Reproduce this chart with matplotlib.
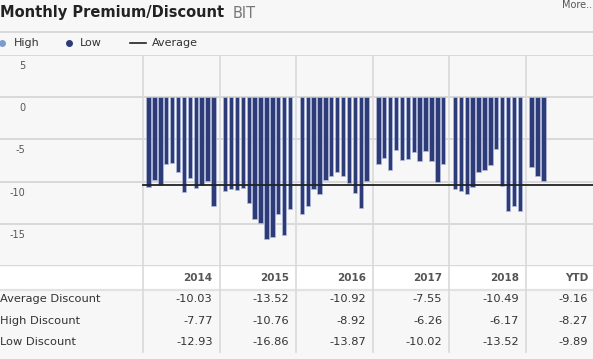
import numpy as np
import matplotlib
matplotlib.use("Agg")
import matplotlib.pyplot as plt
from matplotlib.transforms import blended_transform_factory, offset_copy

# monthly premium/discount, one list per year
years = ['2014', '2015', '2016', '2017', '2018', 'YTD']
monthly = [
    [-10.65, -9.84, -10.43, -7.95, -7.77, -8.90, -11.26, -9.53, -10.75, -10.43, -9.92, -12.93],
    [-11.10, -10.87, -10.99, -10.76, -12.52, -14.45, -14.89, -16.86, -16.51, -13.79, -16.27, -13.23],
    [-13.87, -12.84, -10.87, -11.50, -9.80, -9.37, -8.92, -9.29, -10.16, -11.34, -13.12, -9.96],
    [-7.91, -7.24, -8.58, -6.26, -7.45, -7.36, -6.49, -7.50, -6.33, -7.51, -10.02, -7.95],
    [-10.83, -11.10, -11.46, -10.59, -8.86, -8.58, -7.99, -6.17, -10.51, -13.52, -12.84, -13.43],
    [-8.27, -9.32, -9.89],
]

# table rows
row_labels = ['Average Discount', 'High Discount', 'Low Discount']
avg_disc = [-10.03, -13.52, -10.92, -7.55, -10.49, -9.16]
high_disc = [-7.77, -10.76, -8.92, -6.26, -6.17, -8.27]
low_disc = [-12.93, -16.86, -13.87, -10.02, -13.52, -9.89]

y_ticks = [5, 0, -5, -10, -15, -20]

W, H = 593, 359
bg = '#f7f7f7'
grid_c = '#d9d9d9'
bar_c = '#2d3b78'
txt_c = '#333333'

fig = plt.figure(figsize=(W / 100, H / 100), dpi=100, facecolor=bg)

# main chart area: pixel rows 55..266, full width
ax = fig.add_axes([0, 1 - 266 / H, 1, (266 - 55) / H])
ax.set_facecolor(bg)
slot = 76.6 / 13          # px per slot
x0 = 143                  # px of first divider
ax.set_xlim(-x0 / slot, (W - x0) / slot)
ax.set_ylim(-20, 5)
for s in ax.spines.values():
    s.set_visible(False)
ax.set_xticks([])
ax.set_yticks(y_ticks)
ax.tick_params(axis='y', length=0, labelleft=False)
ax.grid(axis='y', color=grid_c, linewidth=1.4)
ax.set_axisbelow(True)

# year dividers
for i in range(len(years)):
    ax.axvline(i * 13, color=grid_c, linewidth=1.2, zorder=0)

# bars
xs, vals = [], []
for i, ms in enumerate(monthly):
    for m, v in enumerate(ms):
        xs.append(i * 13 + m + 0.95)
        vals.append(v)
ax.bar(xs, vals, width=0.74, color=bar_c, edgecolor='#b4bddb', linewidth=0.5, zorder=2)

# overall average line
avg_all = np.mean(vals)
ax.plot([0, (W - x0) / slot], [avg_all, avg_all], color='#222222', linewidth=1.3, zorder=3)

# y labels below the gridlines
tr = blended_transform_factory(fig.transFigure, ax.transData)
tr = offset_copy(tr, fig=fig, y=-11, units='dots')
for t in y_ticks[:-1]:
    ax.text(25 / W, t, str(t), transform=tr, ha='right', va='center',
            fontsize=7, color='#555555')

# overlay in pixel coordinates for title, legend and table
ov = fig.add_axes([0, 0, 1, 1])
ov.set_xlim(0, W)
ov.set_ylim(H, 0)
ov.axis('off')
ov.patch.set_alpha(0)

ov.text(0, 13, 'Monthly Premium/Discount', fontsize=10.5, fontweight='bold',
        color='#222222', va='center', ha='left')
ov.text(233, 13, 'BIT', fontsize=10.5, color='#777777', va='center', ha='left')
ov.text(W - 1, 5, 'More..', fontsize=7, color='#555555', va='center', ha='right')

ov.plot([0, W], [32, 32], color=grid_c, linewidth=1.4)

# legend
ov.plot([2], [43], 'o', color='#7b9ccc', markersize=4)
ov.text(14, 43, 'High', fontsize=8, color=txt_c, va='center')
ov.plot([69], [43], 'o', color=bar_c, markersize=4)
ov.text(80, 43, 'Low', fontsize=8, color=txt_c, va='center')
ov.plot([130, 146], [43, 43], color='#222222', linewidth=1.2)
ov.text(152, 43, 'Average', fontsize=8, color=txt_c, va='center')

# table
ov.add_patch(plt.Rectangle((0, 267), W, 22, facecolor='white', edgecolor='none'))
ov.plot([0, W], [289.5, 289.5], color='#e2e2e2', linewidth=1.6)
for i in range(len(years)):
    xd = x0 + i * 76.6
    ov.plot([xd, xd], [266, 352], color=grid_c, linewidth=1.2)
for i, yr in enumerate(years):
    xr = min(x0 + (i + 1) * 76.6 - 7, 588)
    ov.text(xr, 278, yr, fontsize=7.5, fontweight='bold', color='#555555',
            ha='right', va='center')
    for r, col in enumerate([avg_disc, high_disc, low_disc]):
        ov.text(xr, 299 + r * 21.5, f'{col[i]:.2f}', fontsize=8.2, color=txt_c,
                ha='right', va='center')
for r, lab in enumerate(row_labels):
    ov.text(0, 299 + r * 21.5, lab, fontsize=8.2, color=txt_c, ha='left', va='center')

fig.savefig('out.png', dpi=100, facecolor=bg)
